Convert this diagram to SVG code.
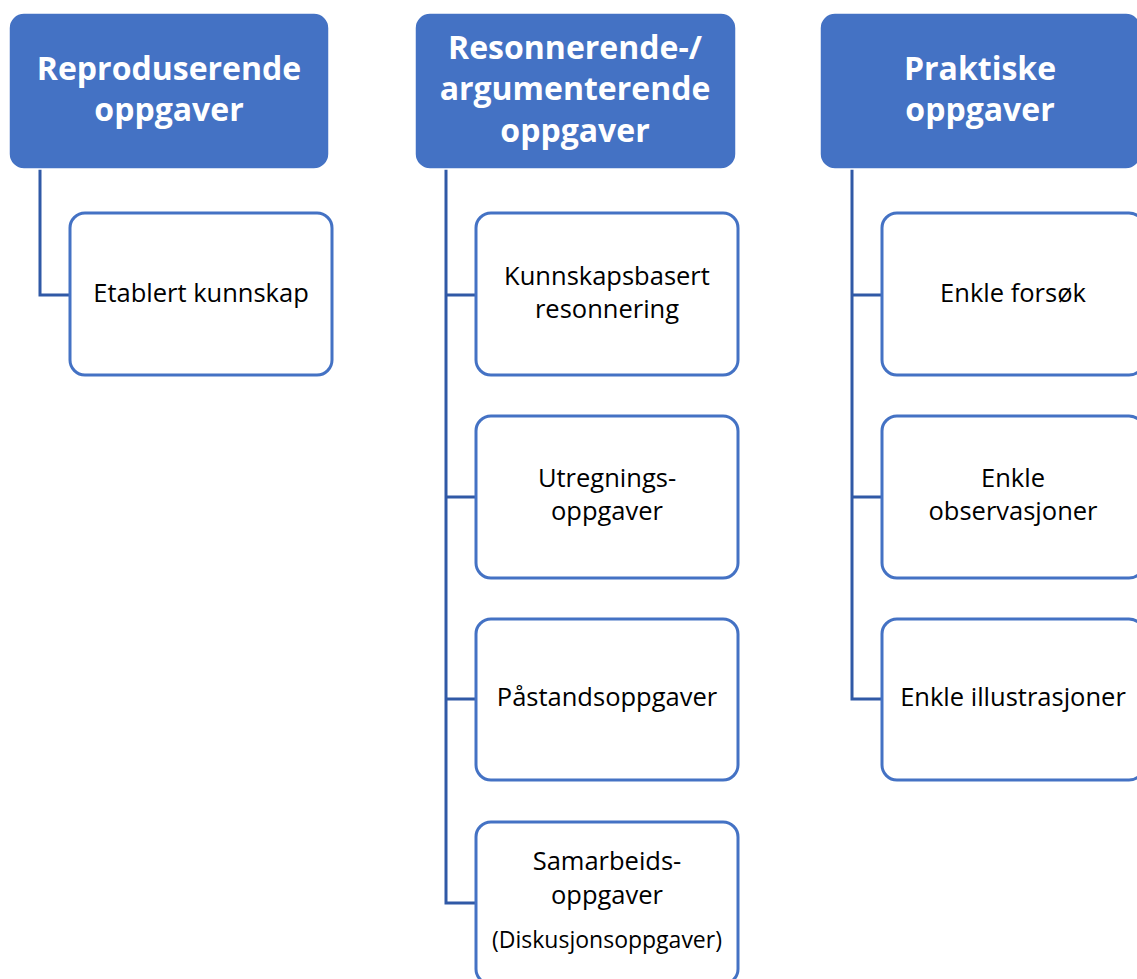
<svg xmlns="http://www.w3.org/2000/svg" width="1137" height="979" viewBox="0 0 1137 979">
<style>
.hdr{fill:#4472C4;stroke:#FFFFFF;stroke-width:1.5}
.child{fill:#FFFFFF;stroke:#4472C4;stroke-width:3}
.ht{font-family:"Open Sans","Liberation Sans",sans-serif;font-weight:bold;font-size:32px;fill:#FFFFFF;text-anchor:middle}
.ct{font-family:"Open Sans","Liberation Sans",sans-serif;font-size:25.5px;fill:#000000;text-anchor:middle}
.small{font-size:23px}
.conn{fill:none;stroke:#3059A6;stroke-width:3}
</style>
<rect width="1137" height="979" fill="#FFFFFF"/>
<g id="connectors">
<path class="conn" d="M40,169 V295 H70"/>
<path class="conn" d="M446,169 V903 H476 M446,295 H476 M446,497 H476 M446,699 H476"/>
<path class="conn" d="M852,169 V699 H882 M852,295 H882 M852,497 H882"/>
</g>
<g id="h1"><rect class="hdr" x="9" y="13" width="320" height="156" rx="15"/>
<text class="ht" x="169" y="80">Reproduserende</text><text class="ht" x="169" y="121">oppgaver</text></g>
<g id="h2"><rect class="hdr" x="415" y="13" width="321" height="156" rx="15"/>
<text class="ht" x="575" y="59">Resonnerende-/</text><text class="ht" x="575" y="100">argumenterende</text><text class="ht" x="575" y="142">oppgaver</text></g>
<g id="h3"><rect class="hdr" x="820" y="13" width="321" height="156" rx="15"/>
<text class="ht" x="980" y="80">Praktiske</text><text class="ht" x="980" y="121">oppgaver</text></g>
<g id="c1"><rect class="child" x="70" y="213" width="262" height="162" rx="15"/>
<text class="ct" x="201" y="302">Etablert kunnskap</text></g>
<g id="c2"><rect class="child" x="476" y="213" width="262" height="162" rx="15"/>
<text class="ct" x="607" y="285">Kunnskapsbasert</text><text class="ct" x="607" y="318">resonnering</text></g>
<g id="c3"><rect class="child" x="476" y="416" width="262" height="162" rx="15"/>
<text class="ct" x="607" y="487">Utregnings-</text><text class="ct" x="607" y="520">oppgaver</text></g>
<g id="c4"><rect class="child" x="476" y="619" width="262" height="161" rx="15"/>
<text class="ct" x="607" y="706">Påstandsoppgaver</text></g>
<g id="c5"><rect class="child" x="476" y="822" width="262" height="162" rx="15"/>
<text class="ct" x="607" y="870">Samarbeids-</text><text class="ct" x="607" y="904">oppgaver</text><text class="ct small" x="607" y="948">(Diskusjonsoppgaver)</text></g>
<g id="c6"><rect class="child" x="882" y="213" width="262" height="162" rx="15"/>
<text class="ct" x="1013" y="302">Enkle forsøk</text></g>
<g id="c7"><rect class="child" x="882" y="416" width="262" height="162" rx="15"/>
<text class="ct" x="1013" y="487">Enkle</text><text class="ct" x="1013" y="520">observasjoner</text></g>
<g id="c8"><rect class="child" x="882" y="619" width="262" height="161" rx="15"/>
<text class="ct" x="1013" y="706">Enkle illustrasjoner</text></g>
</svg>
